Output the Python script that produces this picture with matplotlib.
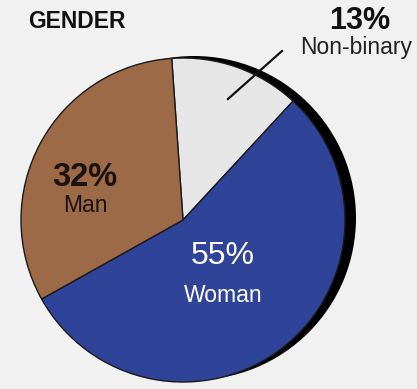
#!/usr/bin/env python3
"""Gender breakdown pie with drop shadow and inline labels."""
import matplotlib
matplotlib.use("Agg")
import matplotlib.pyplot as plt

labels = ["Non-binary", "Woman", "Man"]
shares = [13, 55, 32]
colors = ["#e6e6e6", "#2f4499", "#9c6a46"]

plt.rcParams["font.family"] = ["Liberation Sans", "DejaVu Sans"]

W, H = 417, 389
BG = "#f1f1f1"


def main():
    fig = plt.figure(figsize=(W / 100, H / 100), dpi=100, facecolor=BG)
    ax = fig.add_axes([0, 0, 1, 1])

    cx, cy, r = 183, 169, 162

    # black shadow circle behind, nudged to the right
    ax.pie([1], radius=r, center=(cx + 11, cy + 2), colors=["black"],
           wedgeprops=dict(linewidth=0), frame=True)
    ax.pie(shares, radius=r, center=(cx, cy), colors=colors, startangle=94,
           counterclock=False,
           wedgeprops=dict(edgecolor="#1a1a1a", linewidth=1.0), frame=True)
    ax.set_xlim(0, W)
    ax.set_ylim(0, H)
    ax.set_aspect("equal")
    ax.axis("off")

    ax.text(28, H - 21, "GENDER", fontsize=16.5, fontweight="bold",
            ha="left", va="center", color="#111111")

    # non-binary callout outside the pie
    ax.text(360, H - 21, f"{shares[0]}%", fontsize=22, fontweight="bold",
            ha="center", va="center", color="#111111")
    ax.text(356, H - 47, labels[0], fontsize=16.5, ha="center", va="center",
            color="#222222")
    ax.plot([228, 282], [H - 99, H - 51], color="#111111", lw=1.6)

    ax.text(85, H - 177, f"{shares[2]}%", fontsize=23.5, fontweight="bold",
            ha="center", va="center", color="#1a120c")
    ax.text(85, H - 205, labels[2], fontsize=16.5, ha="center", va="center",
            color="#1a120c")

    ax.text(223, H - 256, f"{shares[1]}%", fontsize=23, ha="center",
            va="center", color="white")
    ax.text(223, H - 296, labels[1], fontsize=16.5, ha="center", va="center",
            color="white")

    fig.savefig("out.png", dpi=100, facecolor=BG)
    plt.close(fig)


if __name__ == "__main__":
    main()
